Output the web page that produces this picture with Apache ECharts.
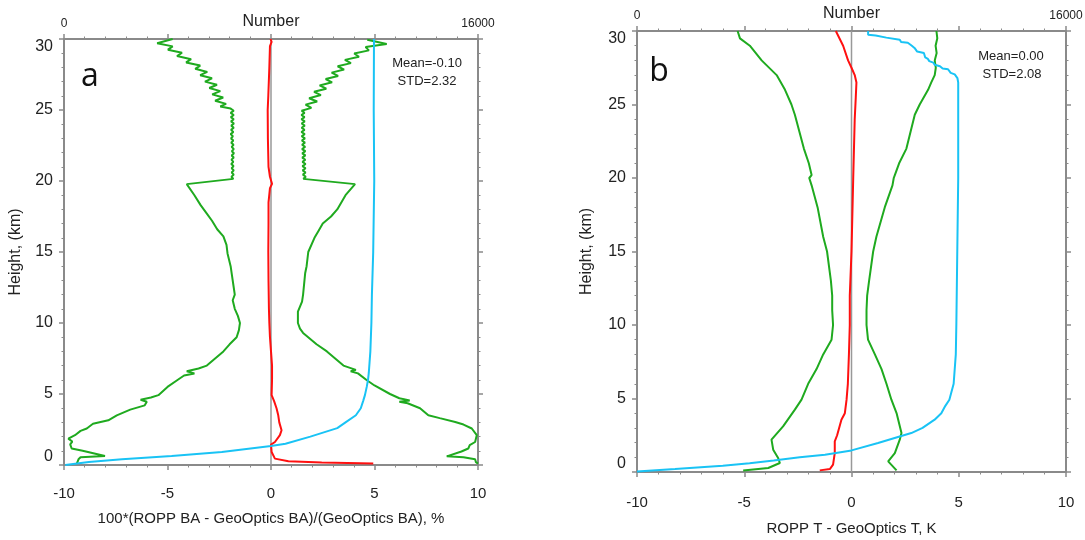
<!DOCTYPE html>
<html>
<head>
<meta charset="utf-8">
<script src="https://cdn.jsdelivr.net/npm/echarts@6/dist/echarts.min.js"></script>
<style>html,body{margin:0;padding:0;background:#fff}#c{width:1085px;height:540px}</style>
</head>
<body>
<div id="c"></div>
<script>
// ---------- DATA (pairs are [value, height km]; Number pairs are [count, height km]) ----------
const xTicks = [-10, -5, 0, 5, 10];
const heightTicks = [0, 5, 10, 15, 20, 25, 30];
const numberTickLabels = [0, 16000];

// Panel a: bending angle % difference
const aMean = [[-0.02,30],[0.03,29.8],[-0.05,29.5],[-0.08,28],[-0.13,26],[-0.16,25],[-0.15,23],[-0.12,21],[-0.05,20.3],[0.05,19.8],[-0.05,19.5],[-0.12,18.5],[-0.12,17],[-0.13,15],[-0.12,13],[-0.1,11],[-0.08,10],[-0.05,9],[0.0,8],[0.05,7],[0.05,6],[0.03,4.92],[0.15,4.5],[0.27,3.98],[0.35,3.5],[0.4,3.0],[0.51,2.45],[0.43,2.1],[0.19,1.62],[0.0,1.44],[0.03,0.92],[0.19,0.45],[0.84,0.26],[2.45,0.17],[4.94,0.1]];
const aLow = [[-4.75,30.0],[-5.5,29.7],[-4.75,29.48],[-4.98,29.25],[-4.3,29.03],[-4.54,28.8],[-3.86,28.58],[-4.1,28.35],[-3.42,28.13],[-3.66,27.9],[-3.08,27.68],[-3.42,27.45],[-2.85,27.23],[-3.19,27.0],[-2.61,26.78],[-2.98,26.55],[-2.45,26.33],[-2.84,26.1],[-2.31,25.88],[-2.7,25.65],[-2.17,25.43],[-2.45,25.25],[-1.95,25.1],[-1.8,24.95],[-1.95,24.8],[-1.8,24.65],[-1.94,24.5],[-1.8,24.35],[-1.93,24.2],[-1.79,24.05],[-1.92,23.9],[-1.8,23.75],[-1.93,23.6],[-1.82,23.45],[-1.95,23.3],[-1.84,23.15],[-1.93,23.0],[-1.82,22.85],[-1.92,22.7],[-1.81,22.55],[-1.9,22.4],[-1.8,22.25],[-1.89,22.1],[-1.79,21.95],[-1.9,21.8],[-1.8,21.65],[-1.91,21.5],[-1.82,21.35],[-1.92,21.2],[-1.81,21.05],[-1.9,20.9],[-1.8,20.75],[-1.9,20.6],[-1.8,20.45],[-1.91,20.3],[-1.82,20.15],[-1.88,20.02],[-4.07,19.78],[-3.7,19.0],[-3.4,18.3],[-3.1,17.7],[-2.85,17.2],[-2.6,16.6],[-2.3,16.1],[-2.15,15.5],[-2.1,14.9],[-1.95,14.0],[-1.9,13.5],[-1.8,12.5],[-1.75,12.0],[-1.85,11.6],[-1.75,11.0],[-1.6,10.5],[-1.5,10.0],[-1.55,9.5],[-1.66,9.0],[-2.0,8.5],[-2.3,8.0],[-2.7,7.5],[-3.1,7.0],[-3.5,6.8],[-4.07,6.6],[-3.7,6.45],[-4.2,6.3],[-4.5,6.0],[-5.0,5.5],[-5.44,4.92],[-5.8,4.75],[-6.3,4.6],[-6.0,4.45],[-6.1,4.2],[-6.8,3.9],[-7.45,3.5],[-7.86,3.15],[-8.6,2.9],[-8.9,2.57],[-9.2,2.4],[-9.47,2.1],[-9.79,1.86],[-9.6,1.65],[-9.7,1.45],[-9.63,1.16],[-9.1,1.0],[-8.02,0.64],[-9.2,0.55],[-9.3,0.4],[-9.38,0.1]];
const aHigh = [[4.65,29.95],[5.59,29.65],[4.57,29.43],[4.73,29.2],[4.02,28.98],[4.25,28.75],[3.57,28.53],[3.86,28.3],[3.22,28.08],[3.53,27.85],[2.93,27.63],[3.24,27.4],[2.64,27.18],[2.95,26.95],[2.35,26.73],[2.67,26.5],[2.08,26.28],[2.41,26.05],[1.84,25.83],[2.23,25.6],[1.67,25.38],[1.95,25.15],[1.48,24.95],[1.62,24.8],[1.47,24.65],[1.62,24.5],[1.47,24.35],[1.63,24.2],[1.48,24.05],[1.63,23.9],[1.48,23.75],[1.62,23.6],[1.47,23.45],[1.63,23.3],[1.48,23.15],[1.64,23.0],[1.49,22.85],[1.64,22.7],[1.5,22.55],[1.65,22.4],[1.5,22.25],[1.66,22.1],[1.51,21.95],[1.66,21.8],[1.51,21.65],[1.66,21.5],[1.52,21.35],[1.67,21.2],[1.52,21.05],[1.67,20.9],[1.53,20.75],[1.67,20.6],[1.54,20.45],[1.68,20.3],[1.56,20.15],[1.64,20.02],[4.06,19.78],[3.6,19.0],[3.2,18.0],[2.9,17.5],[2.5,17.0],[2.3,16.5],[2.1,16.0],[1.8,15.0],[1.72,14.0],[1.65,13.5],[1.55,12.0],[1.5,11.5],[1.3,10.8],[1.3,10.0],[1.4,9.6],[1.55,9.3],[2.2,8.5],[2.7,8.0],[3.1,7.5],[3.5,7.0],[4.1,6.7],[3.85,6.6],[4.2,6.45],[4.6,6.0],[5.0,5.6],[5.75,5.0],[6.2,4.7],[6.7,4.55],[6.2,4.45],[6.6,4.35],[7.2,4.0],[7.6,3.5],[8.15,3.3],[8.9,3.03],[9.3,2.85],[9.7,2.57],[9.94,2.1],[9.86,1.62],[9.6,1.4],[9.53,1.16],[9.2,0.95],[8.49,0.61],[9.3,0.55],[9.86,0.4],[9.9,0.2],[10.0,0.1]];
const aCount = [[11980,30],[11970,25],[11990,20],[11950,15],[11900,12],[11880,10],[11840,8],[11780,6.5],[11750,6],[11700,5.5],[11630,4.92],[11560,4.5],[11470,4.0],[11280,3.5],[10880,3.0],[10560,2.6],[9520,2.0],[8560,1.5],[8000,1.34],[6100,0.92],[4160,0.64],[2240,0.4],[960,0.21],[50,0.0]];

// Panel b: temperature difference K
const bMean = [[-0.73,30],[-0.39,29],[-0.16,28],[0.0,27.5],[0.15,27],[0.23,26.5],[0.2,25.5],[0.15,24],[0.08,20],[0.0,15],[-0.08,12],[-0.08,10],[-0.12,8],[-0.17,6],[-0.23,4.92],[-0.31,4.0],[-0.47,3.56],[-0.67,2.5],[-0.78,2.08],[-0.78,1.29],[-0.86,0.5],[-1.01,0.2],[-1.48,0.11]];
const bLow = [[-5.31,30],[-5.2,29.5],[-4.74,29],[-4.19,28],[-3.49,27],[-3.1,26],[-2.8,25],[-2.64,24.3],[-2.22,22],[-1.99,21],[-1.86,20.2],[-1.97,20],[-1.86,19.5],[-1.58,18],[-1.32,16],[-1.14,15],[-0.96,13],[-0.9,12],[-0.9,11],[-0.86,10],[-0.93,9],[-1.32,8],[-1.63,7],[-2.02,6],[-2.33,4.92],[-2.64,4.24],[-3.19,3.1],[-3.73,2.2],[-3.65,1.52],[-3.42,0.95],[-3.34,0.61],[-3.88,0.27],[-5.05,0.11]];
const bHigh = [[3.96,30],[4.0,29.5],[3.92,29],[3.97,28.5],[3.88,28],[3.93,27.5],[3.88,27],[3.72,26.5],[3.57,26],[3.18,25],[2.95,24.3],[2.56,22],[2.22,21],[2.02,20.2],[1.97,20],[1.91,19.5],[1.55,18],[1.16,16],[1.01,15],[0.82,13],[0.73,12],[0.7,11],[0.7,10],[0.77,9],[1.09,8],[1.4,7],[1.63,6],[1.86,4.92],[2.1,4.01],[2.33,2.65],[2.25,2.2],[2.02,1.29],[1.71,0.72],[2.1,0.11]];
const bCount = [[8620,30],[8620,29.75],[8900,29.7],[9300,29.55],[9800,29.4],[9850,29.25],[10100,29.2],[10250,29.0],[10350,28.85],[10450,28.6],[10700,28.5],[10750,28.2],[10850,28.1],[10900,27.95],[11050,27.85],[11100,27.7],[11300,27.6],[11400,27.45],[11600,27.4],[11700,27.15],[11850,27.05],[11950,26.8],[11980,26.5],[11980,20],[11910,10],[11890,8],[11810,6],[11650,4.92],[11500,4.5],[11350,4.0],[11100,3.56],[10650,3.0],[10230,2.65],[8990,1.97],[8000,1.47],[7010,1.18],[6070,1.0],[5100,0.78],[4200,0.6],[3200,0.43],[1420,0.2],[0,0.04]];

const zeroLine = [[0,0],[0,30]];
const statsA = ['Mean=-0.10', 'STD=2.32'];
const statsB = ['Mean=0.00', 'STD=2.08'];

// ---------- STYLE ----------
const FONT = 'Liberation Sans, Arial, sans-serif';
const AX = '#8a8a8a';
const TXT = '#222';
const GREEN = '#1faa1f', RED = '#ff1010', CYAN = '#19c3f5';

const grids = [
  {left: 64, right: 607, top: 39, bottom: 75, outerBoundsMode: 'none', containLabel: false},
  {left: 637, right: 19, top: 31, bottom: 68, outerBoundsMode: 'none', containLabel: false}
];

function bottomX(gi, name, nameGap, margin) {
  return {
    type: 'value', gridIndex: gi, position: 'bottom', min: -10, max: 10, interval: 5,
    name: name, nameLocation: 'middle', nameGap: nameGap, nameMoveOverlap: false,
    nameTextStyle: {fontFamily: FONT, fontSize: 15, color: TXT},
    axisLine: {show: true, onZero: false, lineStyle: {color: AX, width: 2}},
    axisTick: {show: true, length: 5, lineStyle: {color: AX, width: 1.5}},
    minorTick: {show: true, splitNumber: 5, length: 2.5, lineStyle: {color: AX, width: 1}},
    splitLine: {show: false},
    axisLabel: {fontFamily: FONT, fontSize: 15, color: TXT, margin: margin,
      formatter: v => xTicks.includes(v) ? String(v) : ''}
  };
}
function topX(gi, nameGap, margin) {
  return {
    type: 'value', gridIndex: gi, position: 'top', min: 0, max: 16000, interval: 4000,
    name: 'Number', nameLocation: 'middle', nameGap: nameGap, nameMoveOverlap: false,
    nameTextStyle: {fontFamily: FONT, fontSize: 16, color: TXT},
    axisLine: {show: true, onZero: false, lineStyle: {color: AX, width: 2}},
    axisTick: {show: true, length: 5, lineStyle: {color: AX, width: 1.5}},
    minorTick: {show: true, splitNumber: 5, length: 2.5, lineStyle: {color: AX, width: 1}},
    splitLine: {show: false},
    axisLabel: {fontFamily: FONT, fontSize: 12, color: TXT, margin: margin,
      formatter: v => numberTickLabels.includes(v) ? String(v) : ''}
  };
}
function leftY(gi, nameGap, margin) {
  return {
    type: 'value', gridIndex: gi, position: 'left', min: 0, max: 30, interval: 5,
    name: 'Height, (km)', nameLocation: 'middle', nameGap: nameGap, nameRotate: 90, nameMoveOverlap: false,
    nameTextStyle: {fontFamily: FONT, fontSize: 16, color: TXT},
    axisLine: {show: true, onZero: false, lineStyle: {color: AX, width: 2}},
    axisTick: {show: true, length: 5, lineStyle: {color: AX, width: 1.5}},
    minorTick: {show: true, splitNumber: 5, length: 2.5, lineStyle: {color: AX, width: 1}},
    splitLine: {show: false},
    axisLabel: {fontFamily: FONT, fontSize: 16, color: TXT, margin: margin,
      verticalAlignMinLabel: 'bottom', verticalAlignMaxLabel: 'top',
      formatter: v => heightTicks.includes(v) ? String(v) : ''}
  };
}
function rightY(gi) {
  return {
    type: 'value', gridIndex: gi, position: 'right', min: 0, max: 30, interval: 5,
    axisLine: {show: true, onZero: false, lineStyle: {color: AX, width: 2}},
    axisTick: {show: true, length: 5, lineStyle: {color: AX, width: 1.5}},
    minorTick: {show: true, splitNumber: 5, length: 2.5, lineStyle: {color: AX, width: 1}},
    splitLine: {show: false},
    axisLabel: {show: false}
  };
}
function line(data, color, xi, yi, w, z) {
  return {type: 'line', data: data, xAxisIndex: xi, yAxisIndex: yi, showSymbol: false,
    symbol: 'none', silent: true, animation: false, z: z || 3,
    lineStyle: {color: color, width: w || 2}};
}

const option = {
  animation: false,
  grid: grids,
  xAxis: [
    bottomX(0, '100*(ROPP BA - GeoOptics BA)/(GeoOptics BA), %', 46, 21),
    topX(0, 9, 9),
    bottomX(1, 'ROPP T - GeoOptics T, K', 49, 23),
    topX(1, 9, 9)
  ],
  yAxis: [leftY(0, 40, 11), rightY(0), leftY(1, 42, 11), rightY(1)],
  series: [
    line(zeroLine, '#999', 0, 0, 1.5, 2),
    line(aLow, GREEN, 0, 0, 2),
    line(aHigh, GREEN, 0, 0, 2),
    line(aMean, RED, 0, 0, 2),
    line(aCount, CYAN, 1, 0, 2),
    line(zeroLine, '#999', 2, 2, 1.5, 2),
    line(bLow, GREEN, 2, 2, 2),
    line(bHigh, GREEN, 2, 2, 2),
    line(bMean, RED, 2, 2, 2),
    line(bCount, CYAN, 3, 2, 2)
  ],
  graphic: [
    {type: 'text', x: 90, y: 77, style: {text: 'a', font: '32px "Open Sans", sans-serif', fill: '#111', align: 'center', verticalAlign: 'middle'}},
    {type: 'text', x: 427, y: 63, style: {text: statsA[0], font: '13px ' + FONT, fill: TXT, align: 'center', verticalAlign: 'middle'}},
    {type: 'text', x: 427, y: 81, style: {text: statsA[1], font: '13px ' + FONT, fill: TXT, align: 'center', verticalAlign: 'middle'}},
    {type: 'text', x: 659, y: 72, style: {text: 'b', font: '32px "Open Sans", sans-serif', fill: '#111', align: 'center', verticalAlign: 'middle'}},
    {type: 'text', x: 1011, y: 56, style: {text: statsB[0], font: '13px ' + FONT, fill: TXT, align: 'center', verticalAlign: 'middle'}},
    {type: 'text', x: 1012, y: 74, style: {text: statsB[1], font: '13px ' + FONT, fill: TXT, align: 'center', verticalAlign: 'middle'}}
  ]
};
const chart = echarts.init(document.getElementById('c'), null, {renderer: 'canvas'});
chart.setOption(option);
</script>
</body>
</html>
